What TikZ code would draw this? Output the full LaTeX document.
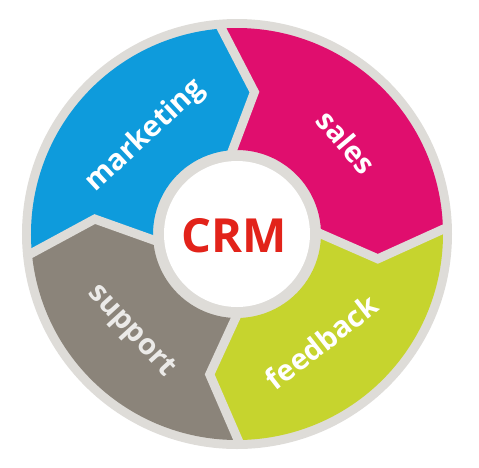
\documentclass[tikz,border=0pt]{standalone}
\usepackage{fontspec}
\setmainfont{Open Sans}
\definecolor{ringgray}{HTML}{DEDCD8}
\definecolor{mktblue}{HTML}{0E9BDC}
\definecolor{salespink}{HTML}{E00E6E}
\definecolor{fbgreen}{HTML}{C6D42E}
\definecolor{supgray}{HTML}{8B847A}
\definecolor{crmred}{HTML}{E2231A}

\begin{document}
\begin{tikzpicture}[x=1pt,y=1pt,
      seglabel/.style={font=\fontsize{29}{29}\selectfont\bfseries,text=white,inner sep=0pt},
      gapline/.style={draw=ringgray,line width=9pt,miter limit=10}]
      \useasboundingbox (-237,-233) rectangle (242,234);
      \fill[ringgray] (0,0) circle (215);
      % ring segments, clockwise
      \fill[mktblue] (186:206) arc[start angle=186,end angle=95,radius=206]
        -- (83:143) -- (95:84) arc[start angle=95,end angle=186,radius=84]
        -- (174:143) -- cycle;
      \fill[salespink] (95:206) arc[start angle=95,end angle=2,radius=206]
        -- (-10:143) -- (2:84) arc[start angle=2,end angle=95,radius=84]
        -- (83:143) -- cycle;
      \fill[fbgreen] (2:206) arc[start angle=2,end angle=-89,radius=206]
        -- (-101:143) -- (-89:84) arc[start angle=-89,end angle=2,radius=84]
        -- (-10:143) -- cycle;
      \fill[supgray] (-89:206) arc[start angle=-89,end angle=-174,radius=206]
        -- (-186:143) -- (-174:84) arc[start angle=-174,end angle=-89,radius=84]
        -- (-101:143) -- cycle;
      % gaps
      \draw[gapline] (95:212) -- (83:143) -- (95:78);
      \draw[gapline] (2:212) -- (-10:143) -- (2:78);
      \draw[gapline] (-89:212) -- (-101:143) -- (-89:78);
      \draw[gapline] (186:212) -- (174:143) -- (186:78);
      % hub
      \fill[ringgray] (0,0) circle (83);
      \fill[white] (0,0) circle (73);
      \node[font=\fontsize{47}{47}\selectfont\bfseries,text=crmred,inner sep=0pt] (crm) at (-3,-2) {CRM};
      \node[seglabel,rotate=43] (marketing) at (133:134) {marketing};
      \node[seglabel,rotate=-50] (sales) at (40:143) {sales};
      \node[seglabel,rotate=38] (feedback) at (-52:137) {feedback};
      \node[seglabel,rotate=-47.5,text=ringgray!60!white] (support) at (222.5:144) {support};
\end{tikzpicture}
\end{document}
